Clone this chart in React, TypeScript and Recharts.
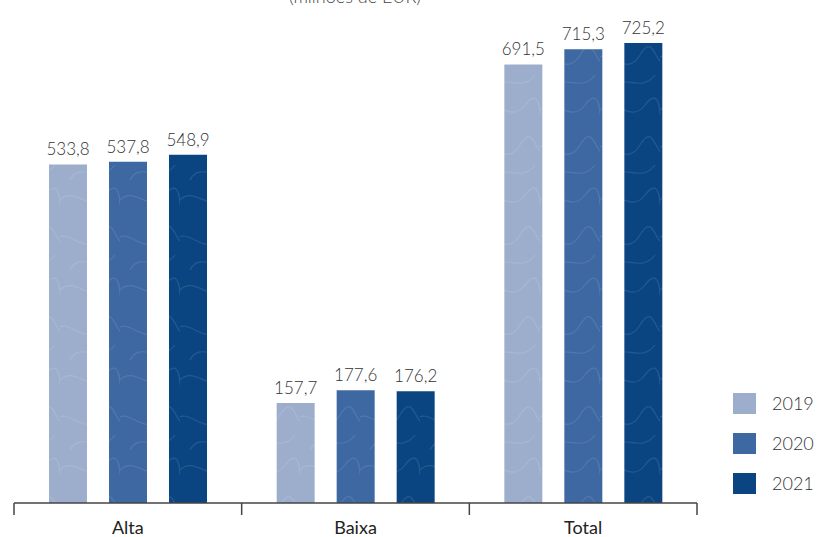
import { BarChart, Bar, XAxis, YAxis, LabelList } from 'recharts'

const categories = ['Alta', 'Baixa', 'Total']
const years = ['2019', '2020', '2021']
const values2019 = [533.8, 157.7, 691.5]
const values2020 = [537.8, 177.6, 715.3]
const values2021 = [548.9, 176.2, 725.2]

const colors = ['#9daecd', '#3d68a2', '#0b4581']

const data = categories.map((name, i) => ({
  name,
  '2019': values2019[i],
  '2020': values2020[i],
  '2021': values2021[i],
}))

const W = 817
const H = 537
const LEFT = 14
const RIGHT = 120
const BAND = (W - LEFT - RIGHT) / categories.length
const FONT = 'Lato, "Open Sans", sans-serif'

const fmt = (v: any) => Number(v).toFixed(1).replace('.', ',')

function CategoryTick(props: any) {
  const { x, y, payload, index } = props
  const half = BAND / 2
  return (
    <g>
      <line x1={x - half} y1={y} x2={x - half} y2={y + 12} stroke="#444" strokeWidth={1.5} />
      {index === categories.length - 1 && (
        <line x1={x + half} y1={y} x2={x + half} y2={y + 12} stroke="#444" strokeWidth={1.5} />
      )}
      <text x={x} y={y + 31} textAnchor="middle" fontSize={18} fill="#222" fontFamily={FONT}>
        {payload.value}
      </text>
    </g>
  )
}

// legend drawn by hand so it does not shrink the plot area
function YearLegend() {
  return (
    <div style={{ position: 'absolute', left: 733, top: 383, fontFamily: FONT }}>
      {years.map((y, i) => (
        <div key={y} style={{ display: 'flex', alignItems: 'center', height: 40 }}>
          <div style={{ width: 23, height: 21, background: colors[i], marginRight: 16 }} />
          <span style={{ fontSize: 18, color: '#333', fontWeight: 300 }}>{y}</span>
        </div>
      ))}
    </div>
  )
}

export default function App() {
  return (
    <div style={{ position: 'absolute', left: 0, top: 0, width: W, height: H, background: '#fff' }}>
      <div
        style={{
          position: 'absolute',
          left: 0,
          width: 710,
          top: -15,
          textAlign: 'center',
          fontFamily: FONT,
          fontSize: 18,
          color: '#444',
          fontWeight: 300,
        }}
      >
        (milhões de EUR)
      </div>
      <BarChart
        width={W}
        height={H}
        data={data}
        margin={{ top: 43, right: RIGHT, bottom: 0, left: LEFT }}
        barGap={22}
        barSize={38}
      >
        <defs>
          {colors.map((c, i) => (
            <pattern key={i} id={'tex' + i} width="60" height="90" patternUnits="userSpaceOnUse">
              <rect width="60" height="90" fill={c} />
              <path
                d="M0 20 C15 5, 30 35, 45 15 S60 25, 60 25 M-5 60 C10 45, 25 80, 40 55 S55 70, 65 60 M10 90 C20 70, 40 95, 55 75"
                fill="none"
                stroke="#ffffff"
                strokeOpacity={0.1}
                strokeWidth={1.2}
              />
            </pattern>
          ))}
        </defs>
        <XAxis
          dataKey="name"
          height={34}
          tickSize={0}
          tickMargin={0}
          tickLine={false}
          axisLine={{ stroke: '#444', strokeWidth: 1.5 }}
          tick={<CategoryTick />}
          interval={0}
        />
        <YAxis hide domain={[0, 'dataMax']} />
        {years.map((y, i) => (
          <Bar key={y} dataKey={y} fill={`url(#tex${i})`} stroke="none" isAnimationActive={false}>
            <LabelList
              dataKey={y}
              position="top"
              offset={9}
              formatter={fmt}
              fill="#333"
              fontSize={17}
              fontFamily={FONT}
              fontWeight={300}
            />
          </Bar>
        ))}
      </BarChart>
      <YearLegend />
    </div>
  )
}
